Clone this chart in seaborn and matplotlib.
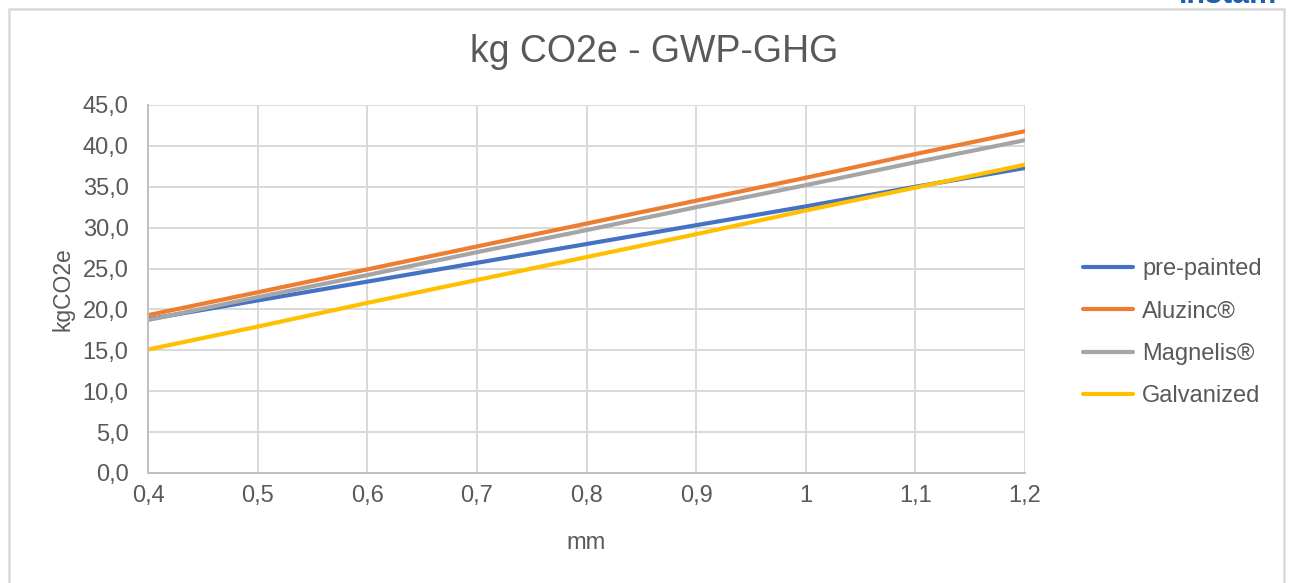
import pandas as pd
import matplotlib
matplotlib.use("Agg")
import matplotlib.pyplot as plt
from matplotlib.patches import Rectangle
from matplotlib.ticker import FuncFormatter, MultipleLocator
import seaborn as sns

# thickness in mm
thickness = [0.4, 0.5, 0.6, 0.7, 0.8, 0.9, 1.0, 1.1, 1.2]

pre_painted = [18.8, 21.1, 23.4, 25.7, 28.0, 30.3, 32.6, 35.0, 37.3]
aluzinc = [19.3, 22.1, 24.9, 27.7, 30.5, 33.3, 36.1, 39.0, 41.8]
magnelis = [18.7, 21.5, 24.2, 27.0, 29.7, 32.5, 35.2, 38.0, 40.7]
galvanized = [15.1, 17.9, 20.8, 23.6, 26.4, 29.2, 32.1, 34.9, 37.7]

series_names = ["pre-painted", "Aluzinc®", "Magnelis®", "Galvanized"]
series_colors = ["#4472C4", "#ED7D31", "#A5A5A5", "#FFC000"]

frames = []
for name, vals in zip(series_names, [pre_painted, aluzinc, magnelis, galvanized]):
    frames.append(pd.DataFrame({"mm": thickness, "kgCO2e": vals, "product": name}))
df = pd.concat(frames, ignore_index=True)

sns.set_theme(style="white")
plt.rcParams['font.family'] = ['Liberation Sans', 'DejaVu Sans']
text_color = "#595959"

fig = plt.figure(figsize=(12.94, 5.83), dpi=100)
ax = fig.add_axes([0.1144, 0.1887, 0.6777, 0.6312])

sns.lineplot(data=df, x="mm", y="kgCO2e", hue="product", hue_order=series_names,
             palette=series_colors, linewidth=3.0, ax=ax, legend=True)

ax.set_xlim(0.4, 1.2)
ax.set_ylim(0, 45)
ax.xaxis.set_major_locator(MultipleLocator(0.1))
ax.yaxis.set_major_locator(MultipleLocator(5))
ax.xaxis.set_major_formatter(FuncFormatter(lambda v, p: f"{v:g}".replace('.', ',')))
ax.yaxis.set_major_formatter(FuncFormatter(lambda v, p: f"{v:.1f}".replace('.', ',')))
ax.grid(True, color="#D9D9D9", linewidth=1.4)
ax.set_axisbelow(True)

for side in ["top", "right"]:
    ax.spines[side].set_visible(False)
for side in ["left", "bottom"]:
    ax.spines[side].set_color("#BFBFBF")
    ax.spines[side].set_linewidth(1.4)

ax.tick_params(axis="y", length=0, pad=14, labelsize=17, labelcolor=text_color)
ax.tick_params(axis="x", length=0, pad=9, labelsize=17, labelcolor=text_color)
ax.set_xlabel("mm", fontsize=17, color=text_color, labelpad=18)
ax.set_ylabel("kgCO2e", fontsize=16.5, color=text_color, labelpad=6)
fig.text(654 / 1294, 1 - 52 / 583, "kg CO2e - GWP-GHG", fontsize=27, color=text_color,
         ha="center", va="center")

leg = ax.legend(loc="center left", bbox_to_anchor=(1.042, 0.381), frameon=False,
                fontsize=17, handlelength=2.1, labelspacing=0.86, handletextpad=0.4)
for t in leg.get_texts():
    t.set_color(text_color)
for line in leg.get_lines():
    line.set_linewidth(3.0)

# chart border and clipped logo at top right
fig.patches.append(Rectangle((9 / 1294, -0.05), 1275 / 1294, 1.05 - 9 / 583,
                             transform=fig.transFigure, fill=False,
                             edgecolor="#D9D9D9", linewidth=1.8))
fig.text(1228 / 1294, 1.0 + 5 / 583, "instam", fontsize=22, fontweight="bold",
         color="#1F5FAD", ha="center", va="center")

plt.savefig("out.png", dpi=100)
plt.close()
